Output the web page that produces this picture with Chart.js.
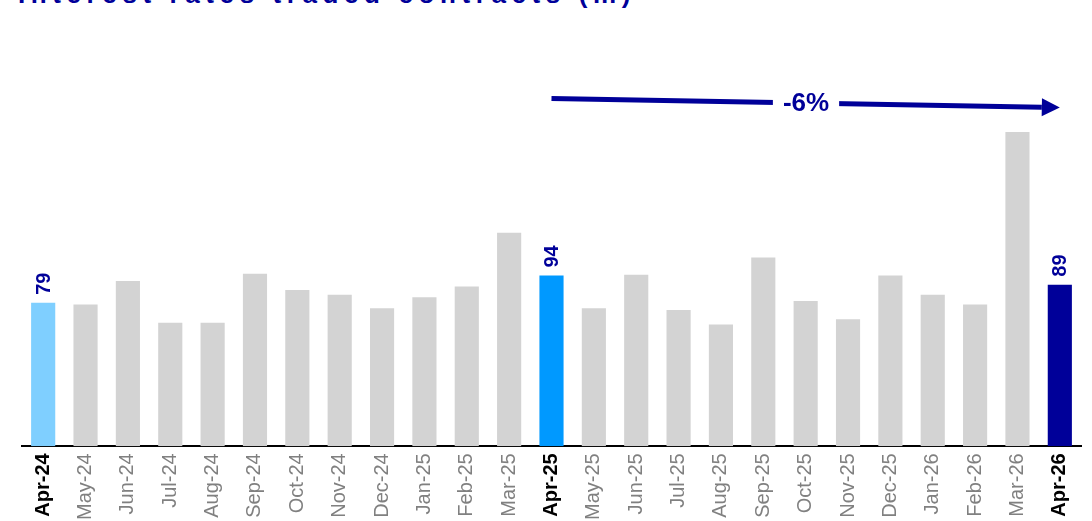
<!DOCTYPE html>
<html>
<head>
<meta charset="utf-8">
<script src="https://cdn.jsdelivr.net/npm/chart.js@4/dist/chart.umd.min.js"></script>
<style>
  html, body { margin: 0; padding: 0; background: #fff; overflow: hidden; }
  #wrap { position: relative; width: 1092px; height: 521px; }
  #title { position: absolute; left: 18px; top: -21px; margin: 0; font: bold 26px "Liberation Sans", Arial, sans-serif; letter-spacing: 5.6px; color: #000099; white-space: nowrap; }
  canvas { position: absolute; left: 0; top: 0; }
</style>
</head>
<body>
<div id="wrap">
  <div id="title">Interest rates traded contracts (m)</div>
  <canvas id="c" width="1092" height="521"></canvas>
</div>
<script>
const categories = ['Apr-24','May-24','Jun-24','Jul-24','Aug-24','Sep-24','Oct-24','Nov-24','Dec-24','Jan-25','Feb-25','Mar-25','Apr-25','May-25','Jun-25','Jul-25','Aug-25','Sep-25','Oct-25','Nov-25','Dec-25','Jan-26','Feb-26','Mar-26','Apr-26'];
const values = [79,78,91,68,68,95,86,83.5,76,82,88,117.5,94,76,94.5,75,67,104,80,70,94,83.5,78,173,89];
const highlightIdx = [0, 12, 24];
const highlightColors = ['#7FCFFF', '#0099FF', '#000099'];
const labelledIdx = [0, 12, 24];
const changeText = '-6%';
const changeFrom = 12, changeTo = 24;

const barColors = categories.map((c, i) => {
  const h = highlightIdx.indexOf(i);
  return h >= 0 ? highlightColors[h] : '#D3D3D3';
});

const overlay = {
  id: 'overlay',
  afterDatasetsDraw(chart) {
    const ctx = chart.ctx;
    const meta = chart.getDatasetMeta(0);
    const ys = chart.scales.y;
    // value labels
    ctx.save();
    ctx.fillStyle = '#000099';
    ctx.font = 'bold 20px "Liberation Sans", Arial, sans-serif';
    labelledIdx.forEach(i => {
      const el = meta.data[i];
      ctx.save();
      ctx.translate(el.x + 1, el.y - 8);
      ctx.rotate(-Math.PI / 2);
      ctx.textAlign = 'left';
      ctx.textBaseline = 'middle';
      ctx.fillText(String(Math.round(values[i])), 0, 0);
      ctx.restore();
    });
    ctx.restore();
    // arrow
    const x1 = meta.data[changeFrom].x;
    const x2 = meta.data[changeTo].x;
    const y1 = ys.getPixelForValue(191.5);
    const y2 = ys.getPixelForValue(186.5);
    const headLen = 18, headW = 9;
    const ang = Math.atan2(y2 - y1, x2 - x1);
    const bx = x2 - headLen * Math.cos(ang), by = y2 - headLen * Math.sin(ang);
    ctx.save();
    ctx.strokeStyle = '#000099';
    ctx.fillStyle = '#000099';
    ctx.lineWidth = 5;
    ctx.beginPath();
    ctx.moveTo(x1, y1);
    ctx.lineTo(bx, by);
    ctx.stroke();
    ctx.beginPath();
    ctx.moveTo(x2, y2);
    ctx.lineTo(bx - headW * Math.sin(ang), by + headW * Math.cos(ang));
    ctx.lineTo(bx + headW * Math.sin(ang), by - headW * Math.cos(ang));
    ctx.closePath();
    ctx.fill();
    // text with gap
    ctx.font = 'bold 26px "Liberation Sans", Arial, sans-serif';
    const tx = 806;
    const t = (tx - x1) / (x2 - x1);
    const ty = y1 + (y2 - y1) * t;
    const tw = ctx.measureText(changeText).width;
    ctx.fillStyle = '#ffffff';
    ctx.fillRect(tx - tw / 2 - 10, ty - 17, tw + 20, 34);
    ctx.fillStyle = '#000099';
    ctx.textAlign = 'center';
    ctx.textBaseline = 'middle';
    ctx.fillText(changeText, tx, ty + 1);
    ctx.restore();
  }
};

new Chart(document.getElementById('c'), {
  type: 'bar',
  data: {
    labels: categories,
    datasets: [{
      data: values,
      backgroundColor: barColors,
      borderWidth: 0,
      barPercentage: 0.57,
      categoryPercentage: 1.0
    }]
  },
  options: {
    responsive: false,
    animation: false,
    events: [],
    layout: { padding: { left: 22, right: 11, top: 83, bottom: -6 } },
    plugins: { legend: { display: false }, tooltip: { enabled: false }, title: { display: false } },
    scales: {
      x: {
        grid: { display: false, drawTicks: false },
        border: { display: true, color: '#000000', width: 2 },
        ticks: {
          minRotation: 90, maxRotation: 90, autoSkip: false, padding: 7,
          color: (ctx) => highlightIdx.includes(ctx.index) ? '#000000' : '#808080',
          font: (ctx) => ({ family: '"Liberation Sans", Arial, sans-serif', size: 20, weight: highlightIdx.includes(ctx.index) ? 'bold' : 'normal' })
        }
      },
      y: {
        display: false,
        min: 0, max: 200,
        grid: { display: false }
      }
    }
  },
  plugins: [overlay]
});
</script>
</body>
</html>
